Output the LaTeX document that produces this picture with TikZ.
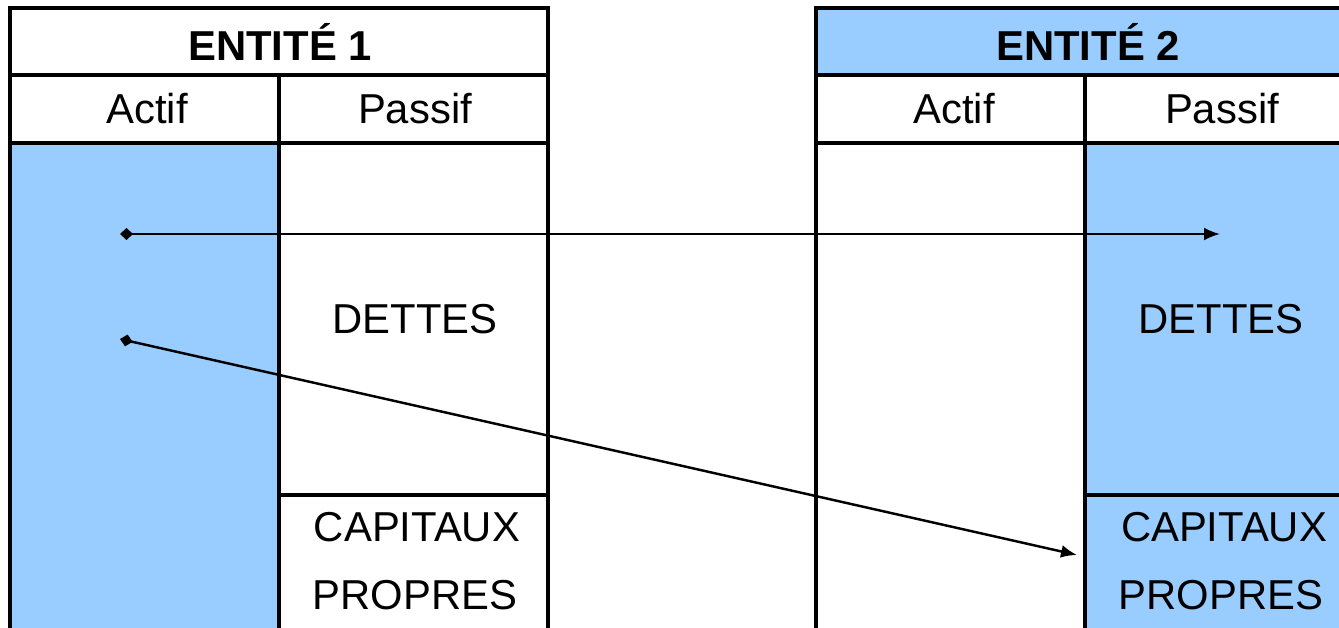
\documentclass[tikz,border=0pt]{standalone}
\usepackage{fontspec}
\setmainfont{Liberation Sans}
\usepackage{tikz}
\usetikzlibrary{positioning}
\usetikzlibrary{calc,arrows.meta}

\definecolor{bilanbleu}{HTML}{99CCFF}

\begin{document}
\begin{tikzpicture}
	[   x=0.02cm,y=-0.02cm,
	    cell/.style={draw=black,line width=2pt,fill=#1},
	    txt/.style={font=\fontsize{23.8}{28}\selectfont,inner sep=0pt},
	]
	\tikzset{normal arrow/.style={draw,line width=1.4pt,{Diamond[length=0.26cm,width=0.24cm]}-{Latex[length=0.32cm,width=0.26cm]}}}
	\clip (0,0) rectangle (1339,628);
	
	% entite 1
	\draw[cell=white] (10,8) rectangle (548,75);
	\draw[cell=white] (10,75) rectangle (279,143);
	\draw[cell=white] (279,75) rectangle (548,143);
	\draw[cell=bilanbleu] (10,143) rectangle (279,660);
	\draw[cell=white] (279,143) rectangle (548,495);
	\draw[cell=white] (279,495) rectangle (548,660);
	
	\node[txt,font=\fontsize{23.8}{28}\selectfont\bfseries] (t-1) at (280,41.5) {ENTITÉ 1};
	\node[txt] (a-1) at (147,109) {Actif};
	\node[txt] (p-1) at (415,109) {Passif};
	\node[txt] (d-1) at (415,319) {DETTES};
	\node[txt] (c-1) at (417,527) {CAPITAUX};
	\node[txt] (r-1) at (415,595) {PROPRES};
	
	% entite 2
	\draw[cell=bilanbleu] (816,8) rectangle (1356,75);
	\draw[cell=white] (816,75) rectangle (1085,143);
	\draw[cell=white] (1085,75) rectangle (1356,143);
	\draw[cell=white] (816,143) rectangle (1085,660);
	\draw[cell=bilanbleu] (1085,143) rectangle (1356,495);
	\draw[cell=bilanbleu] (1085,495) rectangle (1356,660);
	
	\node[txt,font=\fontsize{23.8}{28}\selectfont\bfseries] (t-2) at (1088,41.5) {ENTITÉ 2};
	\node[txt] (a-2) at (954,109) {Actif};
	\node[txt] (p-2) at (1222,109) {Passif};
	\node[txt] (d-2) at (1221,319) {DETTES};
	\node[txt] (c-2) at (1224,527) {CAPITAUX};
	\node[txt] (r-2) at (1221,595) {PROPRES};
	
	% liens
	\coordinate (x-1) at (120,234);
	\coordinate (y-1) at (1220,234);
	\coordinate (x-2) at (120,339);
	\coordinate (y-2) at (1077,555);
	\path[normal arrow] (x-1) -- (y-1);
	\path[normal arrow] (x-2) -- (y-2);
\end{tikzpicture}
\end{document}
